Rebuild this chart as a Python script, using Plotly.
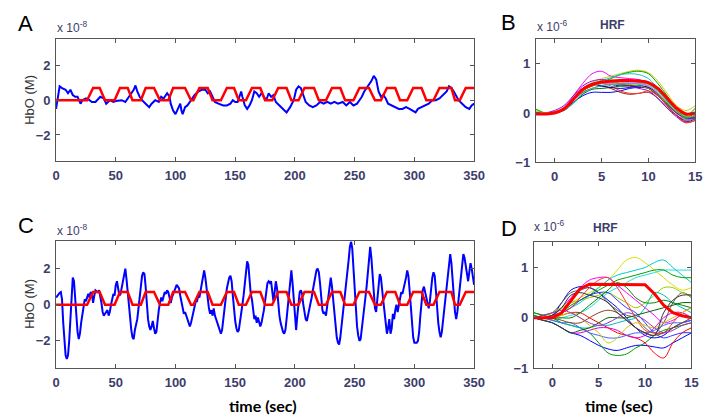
import plotly.graph_objects as go

W, H = 715, 420

# ---------------- data (HbO in units of 1e-8 M, HRF in units of 1e-6 M) ----------------
# stimulus blocks: ramp-up start, plateau start, plateau end, ramp-down end (sec)
STIM_RISE_START = [26, 49, 71, 94, 115, 138, 159, 181, 203, 226, 249, 272, 294, 316, 338]
STIM_RISE_END   = [31, 53.5, 75, 98, 120, 143, 164, 186, 208, 231, 254, 277, 299, 321, 343]
STIM_FALL_START = [36.5, 60, 82, 108, 127, 149, 171, 193, 216, 238, 262, 284, 306, 331, 350]
STIM_FALL_END   = [41, 64, 87, 113, 131, 153, 175, 197, 220, 242, 267, 288, 310, 334, 350]
STIM_LEVEL = 0.7

A_BLUE = [(0,-0.5),(1.5,0.3),(3,0.8),(5,0.7),(8,0.6),(10,0.4),(12,0.6),(14,0.3),(16,0.2),(18,0.2),
          (20.5,-0.2),(22,0.0),(25,0.1),(28,0.0),(30,-0.1),(33,-0.1),(37,0.2),(40,0.1),(42,-0.2),(45,0.0),
          (48,-0.1),(50,-0.05),(55,0.0),(58,-0.1),(62,0.3),(65,0.6),(66.5,0.85),(68,0.5),(70,0.2),(72,0.0),
          (75,-0.2),(78,-0.4),(80,-0.2),(83,0.0),(86,-0.1),(88,0.2),(90,0.1),(93,0.4),(95,0.2),(96,-0.2),
          (98,-0.6),(100,-0.8),(102,-0.5),(104,-0.2),(105,-0.6),(106,-0.8),(108,-0.4),(110,-0.3),(113,0.0),
          (116,0.3),(119,0.5),(122,0.6),(125,0.6),(127,0.4),(129,0.5),(131,0.2),(133,-0.1),(136,-0.2),
          (140,-0.3),(143,-0.3),(146,-0.2),(148,0.0),(150,-0.1),(152,-0.1),(154,0.3),(155,0.5),(156,0.2),
          (158,-0.3),(160,-0.5),(162,-0.3),(164,0.0),(166,0.5),(168,0.4),(170,0.2),(172,0.4),(174,0.2),
          (176,0.0),(178,0.4),(180,0.2),(182,0.3),(184,-0.1),(187,-0.3),(190,-0.5),(193,-0.7),(196,-0.4),
          (199,0.0),(201,0.6),(203,0.8),(205,0.7),(207,0.3),(209,-0.1),(212,-0.3),(215,-0.4),(218,-0.3),
          (221,-0.1),(224,-0.2),(227,-0.1),(230,-0.2),(233,-0.1),(236,-0.2),(240,-0.1),(243,-0.3),(246,-0.1),
          (249,-0.3),(252,-0.2),(254,0.0),(256,0.2),(258,0.5),(260,0.7),(262,0.9),(264,1.1),(266,1.4),
          (268,1.2),(270,0.5),(272,0.2),(274,0.3),(276,0.1),(278,-0.2),(281,-0.3),(284,-0.4),(287,-0.5),
          (290,-0.5),(293,-0.4),(296,-0.5),(299,-0.6),(301,-0.7),(303,-0.5),(306,-0.4),(309,-0.3),(312,-0.2),
          (315,0.0),(318,0.0),(321,0.1),(324,0.3),(327,0.5),(329,0.8),(331,0.7),(333,0.5),(335,0.2),(337,0.0),
          (340,-0.2),(343,-0.4),(346,-0.5),(348,-0.3),(350,-0.2)]

C_TIME = list(range(0, 351))
C_BLUE = [
    0.4,0.5,0.6,0.65,0.7,0.3,-1.0,-2.0,-2.8,-3.0,
    -2.8,-2.0,-0.8,0.5,1.5,1.3,0.3,-0.8,-1.5,-1.9,
    -1.6,-1.0,-0.6,-0.1,0.3,0.2,0.4,0.6,0.4,0.7,
    0.6,0.1,0.5,0.8,0.75,0.7,0.8,0.5,0.1,-0.4,
    -0.6,-0.5,-0.4,-0.3,-0.6,-0.4,0.0,0.3,0.6,0.5,
    1.1,1.3,0.9,0.5,0.6,1.0,1.3,1.6,2.0,1.4,
    0.6,0.0,-0.7,-1.4,-1.8,-1.9,-1.4,-1.1,-0.8,-0.2,
    0.5,1.2,1.6,1.8,1.7,1.0,0.0,-0.8,-1.2,-1.4,
    -1.2,-0.9,-1.3,-1.6,-1.5,-0.8,-0.3,0.1,0.4,0.2,
    0.5,0.7,0.6,0.8,0.7,0.3,0.1,0.4,0.6,0.8,
    1.0,1.1,1.0,0.9,0.5,0.1,-0.3,-0.5,-0.4,-0.6,
    -0.8,-1.0,-1.2,-1.0,-0.7,-0.3,0.0,0.2,0.2,0.5,
    0.4,0.8,1.0,1.5,1.9,1.5,0.8,0.2,-0.2,-0.5,
    -0.3,-0.6,-0.2,-0.6,-0.8,-1.0,-1.3,-1.5,-1.6,-1.4,
    -0.8,-0.3,0.3,0.9,1.2,1.5,1.6,1.3,0.5,-0.3,
    -0.9,-1.3,-1.5,-1.4,-1.0,-0.5,0.0,0.5,1.2,2.0,
    2.4,2.2,1.3,0.6,0.3,-0.3,-0.8,-0.6,-1.0,-0.7,
    -1.0,-1.2,-1.0,-0.7,-0.3,0.2,0.8,1.2,1.3,1.2,
    1.3,0.8,0.2,0.7,1.3,0.9,0.0,-0.6,-1.0,-1.3,
    -1.5,-1.6,-1.4,-0.8,-0.1,0.6,1.3,1.9,1.2,0.2,
    -0.8,-1.4,-0.6,0.3,0.7,0.8,0.6,0.0,-0.5,-0.8,
    -0.9,-0.6,-0.3,0.1,0.4,0.8,1.2,1.6,1.9,2.0,
    1.8,1.2,0.5,-0.3,-0.5,-0.4,-0.6,0.0,0.4,1.0,
    1.5,1.0,0.3,-0.5,-1.2,-1.8,-2.1,-2.2,-1.8,-1.2,
    -0.6,-0.1,0.5,1.0,1.8,2.5,3.2,3.5,3.1,2.0,
    0.8,-0.3,-1.2,-1.7,-2.0,-1.9,-1.4,-0.8,-0.2,0.4,
    1.0,1.8,2.6,3.2,2.6,1.7,0.7,-0.2,-0.4,0.2,
    1.0,1.7,1.5,1.0,0.2,-0.4,-1.0,-1.6,-1.3,-0.8,
    -1.6,-1.3,-0.5,-0.8,-0.3,0.0,-0.4,0.0,0.5,0.7,
    0.6,0.9,1.1,1.5,1.9,1.6,0.8,-0.2,-1.2,-1.8,
    -2.1,-2.1,-2.1,-2.0,-1.5,-0.6,0.2,0.8,1.0,0.7,
    0.4,0.2,-0.2,0.2,0.9,1.5,1.8,1.6,0.8,-0.2,
    -1.0,-1.5,-1.8,-1.5,-0.9,-0.2,0.5,1.0,1.6,2.2,
    2.8,2.3,1.3,0.4,-0.4,-0.8,-0.4,0.3,1.0,1.8,
    2.4,2.8,2.6,2.1,1.6,1.3,1.8,2.3,2.0,1.5,
    1.1]

HRF_T = [-2,-1,0,1,2,3,4,5,6,7,8,9,10,11,12,13,14,15]

B_RED = [-0.02,-0.02,0.0,0.08,0.28,0.48,0.58,0.63,0.65,0.66,0.66,0.65,0.62,0.5,0.3,0.1,-0.02,0.0]
B_CURVES = [
    [0.0,0.0,0.02,0.1,0.35,0.6,0.8,0.85,0.75,0.72,0.7,0.68,0.6,0.45,0.25,0.05,-0.1,-0.05],
    [0.05,0.0,0.02,0.1,0.3,0.5,0.62,0.7,0.75,0.8,0.85,0.87,0.82,0.65,0.4,0.15,0.05,0.15],
    [0.08,0.0,0.0,0.08,0.25,0.45,0.55,0.62,0.7,0.78,0.83,0.85,0.8,0.6,0.35,0.1,-0.05,0.1],
    [0.0,-0.02,0.0,0.1,0.3,0.5,0.6,0.66,0.72,0.78,0.8,0.78,0.7,0.5,0.25,0.05,-0.08,0.0],
    [-0.02,-0.03,0.0,0.08,0.22,0.35,0.42,0.42,0.42,0.45,0.5,0.52,0.5,0.35,0.15,-0.05,-0.15,-0.1],
    [0.0,0.0,0.02,0.1,0.25,0.42,0.5,0.55,0.5,0.42,0.38,0.4,0.42,0.3,0.1,-0.05,-0.15,-0.1],
    [-0.02,-0.02,0.0,0.1,0.3,0.5,0.58,0.6,0.58,0.55,0.55,0.55,0.5,0.35,0.15,-0.05,-0.18,-0.12],
    [0.0,0.0,0.02,0.05,0.2,0.38,0.48,0.5,0.52,0.55,0.56,0.55,0.52,0.38,0.18,0.0,-0.12,-0.05],
    [-0.02,0.0,0.05,0.15,0.35,0.55,0.65,0.68,0.65,0.6,0.55,0.5,0.45,0.3,0.1,-0.08,-0.2,-0.15],
    [0.0,-0.02,0.0,0.1,0.3,0.5,0.6,0.62,0.6,0.58,0.6,0.6,0.55,0.4,0.2,0.0,-0.1,-0.05],
    [0.0,0.0,0.02,0.08,0.25,0.45,0.55,0.6,0.55,0.45,0.4,0.4,0.45,0.35,0.15,-0.05,-0.2,-0.15],
    [0.02,0.0,0.02,0.1,0.28,0.48,0.58,0.6,0.62,0.65,0.65,0.62,0.58,0.45,0.25,0.05,-0.08,0.0],
    [0.0,0.0,0.0,0.05,0.2,0.4,0.5,0.55,0.58,0.6,0.6,0.58,0.55,0.42,0.22,0.02,-0.12,-0.08],
    [0.0,0.0,0.02,0.12,0.32,0.5,0.58,0.6,0.6,0.62,0.62,0.6,0.55,0.4,0.2,0.0,-0.15,-0.1],
    [-0.03,-0.02,0.0,0.1,0.3,0.5,0.58,0.55,0.52,0.5,0.52,0.55,0.52,0.38,0.2,0.0,-0.1,-0.1],
    [0.0,0.0,0.02,0.1,0.3,0.48,0.55,0.6,0.62,0.6,0.58,0.55,0.5,0.38,0.2,0.02,-0.1,-0.05],
]

D_RED = [0.0,0.0,0.0,0.1,0.33,0.58,0.67,0.67,0.67,0.67,0.67,0.67,0.66,0.48,0.25,0.1,0.04,0.0]
D_CURVES = [
    [0.0,0.05,0.1,0.2,0.3,0.4,0.5,0.6,0.75,0.95,1.15,1.2,1.1,0.95,0.8,0.65,0.55,0.6],
    [0.0,0.0,0.05,0.1,0.2,0.3,0.45,0.6,0.75,0.85,0.9,0.95,1.0,1.1,1.15,1.0,0.85,0.7],
    [0.05,0.0,-0.05,0.0,0.05,0.1,0.2,0.35,0.5,0.6,0.7,0.8,0.85,0.9,0.95,0.95,0.95,0.95],
    [0.1,0.05,0.0,0.1,0.25,0.35,0.45,0.55,0.65,0.75,0.8,0.85,0.9,0.95,0.95,0.85,0.8,0.8],
    [0.0,-0.05,-0.1,-0.2,-0.3,-0.35,-0.45,-0.55,-0.62,-0.65,-0.6,-0.55,-0.55,-0.58,-0.6,-0.5,-0.4,-0.3],
    [0.1,0.05,0.0,-0.1,-0.15,-0.2,-0.3,-0.5,-0.7,-0.75,-0.72,-0.6,-0.5,-0.35,-0.25,-0.2,-0.15,-0.1],
    [0.0,0.0,0.0,0.05,0.1,0.1,0.0,-0.1,-0.2,-0.3,-0.35,-0.4,-0.5,-0.7,-0.8,-0.5,-0.3,-0.2],
    [0.0,0.0,0.05,0.2,0.4,0.6,0.75,0.8,0.8,0.65,0.5,0.35,0.2,0.05,-0.1,-0.05,0.05,0.0],
    [0.0,0.0,0.05,0.3,0.55,0.62,0.6,0.5,0.35,0.2,0.0,-0.2,-0.35,-0.4,-0.35,-0.2,-0.1,-0.05],
    [0.0,0.05,0.1,0.3,0.5,0.55,0.6,0.5,0.3,0.15,0.05,0.0,-0.2,-0.3,-0.1,0.3,0.5,0.4],
    [0.0,0.0,0.1,0.2,0.3,0.35,0.4,0.45,0.5,0.4,0.3,0.2,0.3,0.45,0.6,0.6,0.5,0.45],
    [0.0,-0.05,-0.1,-0.2,-0.3,-0.3,-0.25,-0.2,-0.2,-0.25,-0.35,-0.4,-0.35,-0.2,0.0,0.1,0.1,0.0],
    [0.0,0.0,0.05,0.1,0.2,0.35,0.45,0.5,0.5,0.35,0.2,0.1,-0.1,-0.3,-0.4,-0.35,-0.3,-0.3],
    [0.0,0.0,-0.05,-0.1,-0.15,-0.2,-0.2,-0.15,-0.15,-0.1,-0.05,0.0,0.2,0.5,0.45,0.3,0.2,0.1],
    [0.05,0.0,0.0,0.0,0.0,0.1,0.25,0.4,0.55,0.7,0.6,0.4,0.3,0.3,0.35,0.3,0.25,0.2],
    [0.0,0.0,0.05,0.1,0.2,0.4,0.6,0.75,0.8,0.6,0.3,0.0,-0.25,-0.3,-0.3,-0.1,0.1,0.2],
    [0.0,0.0,-0.05,-0.1,-0.1,-0.2,-0.3,-0.35,-0.4,-0.4,-0.35,-0.3,-0.3,-0.25,-0.15,-0.1,-0.1,-0.05],
    [0.0,-0.05,-0.1,-0.2,-0.3,-0.25,-0.2,-0.1,0.0,0.0,0.0,0.05,0.1,0.15,0.2,0.25,0.3,0.3],
    [0.0,0.0,0.0,0.05,0.1,0.0,-0.15,-0.3,-0.5,-0.4,-0.2,-0.1,-0.15,-0.2,-0.1,0.0,0.1,0.2],
    [0.0,0.0,0.0,-0.05,-0.1,-0.1,0.0,0.1,0.15,0.1,-0.05,-0.2,-0.3,-0.35,-0.3,-0.2,-0.1,0.0],
    [0.0,0.05,0.1,0.15,0.1,0.0,-0.1,-0.15,-0.1,0.0,0.1,0.05,-0.05,-0.2,-0.3,-0.25,-0.15,-0.1],
    [0.0,0.0,0.05,0.2,0.45,0.5,0.45,0.4,0.3,0.1,-0.05,-0.2,-0.3,-0.35,0.1,0.35,0.45,0.45],
]

B_COLORS = ['#ff00ff', '#cccc00', '#00a000', '#00cccc', '#0000ff', '#8b2500', '#333333', '#006400',
            '#9900cc', '#3366ff', '#ff3333', '#33bb33', '#22cccc', '#ff66ff', '#0000bb', '#999900']
D_COLORS = ['#dddd00', '#00cccc', '#22dddd', '#00a000', '#0000ff', '#009900', '#ff0000', '#ff00ff',
            '#0000ee', '#555555', '#99cc00', '#dd00dd', '#3333ff', '#00bbbb', '#008800', '#ff3333',
            '#4466ff', '#006400', '#cccc00', '#8b4513', '#9933cc', '#333333']

# ---------------- build stimulus polyline ----------------
stim_t, stim_v = [0], [0]
for a, b, c, d in zip(STIM_RISE_START, STIM_RISE_END, STIM_FALL_START, STIM_FALL_END):
    stim_t += [a, b, c, d]
    stim_v += [0, STIM_LEVEL, STIM_LEVEL, 0 if d > c else STIM_LEVEL]

fig = go.Figure()

BLUE, RED = '#0000ff', '#ff0000'
a_t, a_v = zip(*A_BLUE)
fig.add_trace(go.Scatter(x=a_t, y=a_v, mode='lines', line=dict(color=BLUE, width=2), xaxis='x', yaxis='y'))
fig.add_trace(go.Scatter(x=stim_t, y=stim_v, mode='lines', line=dict(color=RED, width=2.5), xaxis='x', yaxis='y'))

for vals, col in zip(B_CURVES, B_COLORS):
    fig.add_trace(go.Scatter(x=HRF_T, y=vals, mode='lines', line=dict(color=col, width=1, shape='spline'),
                             xaxis='x2', yaxis='y2'))
fig.add_trace(go.Scatter(x=HRF_T, y=B_RED, mode='lines', line=dict(color=RED, width=3, shape='spline'),
                         xaxis='x2', yaxis='y2'))

fig.add_trace(go.Scatter(x=C_TIME, y=C_BLUE, mode='lines', line=dict(color=BLUE, width=2), xaxis='x3', yaxis='y3'))
fig.add_trace(go.Scatter(x=stim_t, y=stim_v, mode='lines', line=dict(color=RED, width=2.5), xaxis='x3', yaxis='y3'))

for vals, col in zip(D_CURVES, D_COLORS):
    fig.add_trace(go.Scatter(x=HRF_T, y=vals, mode='lines', line=dict(color=col, width=1, shape='spline'),
                             xaxis='x4', yaxis='y4'))
fig.add_trace(go.Scatter(x=HRF_T, y=D_RED, mode='lines', line=dict(color=RED, width=3),
                         xaxis='x4', yaxis='y4'))

def px_x(p):
    return p / W

def px_y(p):
    return 1 - p / H

TICKFONT = dict(family='Liberation Sans, Arial', size=13, color='#3d3d6b', weight='bold')
AX = dict(showline=True, mirror='ticks', linecolor='#555555', linewidth=1, ticks='inside', ticklen=4,
          tickcolor='#555555', showgrid=False, zeroline=False, tickfont=TICKFONT, ticklabelstandoff=2)

def xa(d0, d1, rng, tv, anchor):
    return dict(AX, domain=[px_x(d0), px_x(d1)], range=rng, tickvals=tv, anchor=anchor)

def ya(t, b, rng, tv, anchor):
    return dict(AX, domain=[px_y(b), px_y(t)], range=rng, tickvals=tv, anchor=anchor)

fig.update_layout(
    width=W, height=H, margin=dict(l=0, r=0, t=0, b=0),
    paper_bgcolor='white', plot_bgcolor='white', showlegend=False,
    xaxis=xa(45, 472, [0, 350], [0, 50, 100, 150, 200, 250, 300, 350], 'y'),
    yaxis=ya(32, 156, [-3.5, 3.5], [-2, 0, 2], 'x'),
    xaxis2=xa(535, 698, [-2, 15], [0, 5, 10, 15], 'y2'),
    yaxis2=ya(32, 157, [-1, 1.5], [-1, 0, 1], 'x2'),
    xaxis3=xa(45, 472, [0, 350], [0, 50, 100, 150, 200, 250, 300, 350], 'y3'),
    yaxis3=ya(238, 367, [-3.5, 3.5], [-2, 0, 2], 'x3'),
    xaxis4=xa(533, 694, [-2, 15], [0, 5, 10, 15], 'y4'),
    yaxis4=ya(239, 367, [-1, 1.5], [-1, 0, 1], 'x4'),
)

def ann(text, x, y, size, color='black', family='Liberation Sans, Arial', xanchor='center', angle=0, weight='normal'):
    fig.add_annotation(text=text, x=px_x(x), y=px_y(y), xref='paper', yref='paper', showarrow=False,
                       xanchor=xanchor, yanchor='middle', textangle=angle,
                       font=dict(size=size, color=color, family=family, weight=weight))

# panel letters
ann('A', 14, 16, 22)
ann('B', 507, 15, 22)
ann('C', 14, 222, 22)
ann('D', 508, 225, 22)
# exponent labels
EXPC = '#3d3d6b'
ann('x 10<sup>-8</sup>', 44, 19, 12, EXPC, xanchor='left')
ann('x 10<sup>-6</sup>', 534, 18, 12, EXPC, xanchor='left')
ann('x 10<sup>-8</sup>', 44, 226, 12, EXPC, xanchor='left')
ann('x 10<sup>-6</sup>', 531, 222, 12, EXPC, xanchor='left')
# HRF titles
ann('HRF', 613, 17, 12, EXPC, weight='bold')
ann('HRF', 606, 224, 12, EXPC, weight='bold')
# y titles
ann('HbO (M)', 18, 94, 13, '#333333', angle=-90)
ann('HbO (M)', 18, 302, 13, '#333333', angle=-90)
# x titles
ann('time (sec)', 256, 405, 16, 'black', family='Lato', weight='bold')
ann('time (sec)', 620, 405, 16, 'black', family='Lato', weight='bold')

fig.write_html('out.html')
